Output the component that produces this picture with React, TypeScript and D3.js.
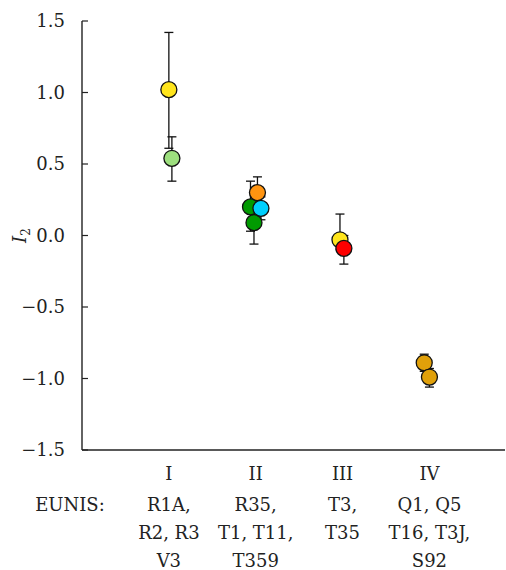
import * as d3 from "d3"

const yTicks = [1.5, 1.0, 0.5, 0.0, -0.5, -1.0, -1.5]
const groups = ["I", "II", "III", "IV"]
const groupPos = [1, 2, 3, 4]
const habitatLines = [
  ["R1A,", "R2, R3", "V3"],
  ["R35,", "T1, T11,", "T359"],
  ["T3,", "T35"],
  ["Q1, Q5", "T16, T3J,", "S92"],
]

// one entry per plotted mean, in drawing order
const pointPos = [1.0, 1.035, 1.98, 1.94, 2.06, 2.02, 2.97, 3.015, 3.94, 4.0]
const means = [1.02, 0.54, 0.09, 0.2, 0.19, 0.3, -0.03, -0.09, -0.89, -0.99]
const errHigh = [1.42, 0.69, 0.2, 0.38, 0.27, 0.41, 0.15, 0.0, -0.83, -0.93]
const errLow = [0.61, 0.38, -0.06, 0.03, 0.11, 0.19, -0.1, -0.2, -0.95, -1.06]
const fills = ["#ffe51c", "#9ddf7e", "#019a01", "#019a01", "#00d0ff", "#ff9410", "#ffe51c", "#ff0000", "#e0a00a", "#e0a00a"]

const width = 506
const height = 570
const left = 82
const font = "DejaVu Serif, Liberation Serif, serif"

export default function App() {
  const y = d3.scaleLinear().domain([-1.5, 1.5]).range([450, 21])
  const x = d3.scaleLinear().domain([0, 4.87]).range([left, 505])
  const cap = 4.5
  const fs = 18

  return (
    <svg
      width={width}
      height={height}
      style={{ position: "absolute", left: 0, top: 0, background: "#fff", fontFamily: font }}
    >
      {/* axes */}
      <line x1={left} x2={left} y1={y(1.5)} y2={y(-1.5)} stroke="#222" strokeWidth={1.4} />
      <line x1={left} x2={505} y1={y(-1.5)} y2={y(-1.5)} stroke="#222" strokeWidth={1.4} />
      {yTicks.map((t) => (
        <g key={t}>
          <line x1={left} x2={left + 6} y1={y(t)} y2={y(t)} stroke="#222" strokeWidth={1.2} />
          <text x={65} y={y(t) + 6} textAnchor="end" fontSize={fs} fill="#222">
            {d3.format(".1f")(t).replace("-", "\u2013")}
          </text>
        </g>
      ))}
      <text
        transform={`translate(26, ${y(0)}) rotate(-90)`}
        textAnchor="middle"
        fontSize={fs}
        fill="#222"
      >
        <tspan fontStyle="italic">I</tspan>
        <tspan fontSize={12} dy={4}>2</tspan>
      </text>

      {/* error bars */}
      {means.map((_, i) => {
        const cx = x(pointPos[i])
        return (
          <g key={`e${i}`} stroke="#111" strokeWidth={1.3}>
            <line x1={cx} x2={cx} y1={y(errHigh[i])} y2={y(errLow[i])} />
            <line x1={cx - cap} x2={cx + cap} y1={y(errHigh[i])} y2={y(errHigh[i])} />
            <line x1={cx - cap} x2={cx + cap} y1={y(errLow[i])} y2={y(errLow[i])} />
          </g>
        )
      })}

      {/* means */}
      {means.map((m, i) => (
        <circle
          key={`p${i}`}
          cx={x(pointPos[i])}
          cy={y(m)}
          r={8}
          fill={fills[i]}
          stroke="#111"
          strokeWidth={1.3}
        />
      ))}

      {/* category labels */}
      {groups.map((g, i) => (
        <text key={g} x={x(groupPos[i])} y={480} textAnchor="middle" fontSize={fs} fill="#222">
          {g}
        </text>
      ))}
      <text x={70} y={511} textAnchor="middle" fontSize={fs} fill="#222">
        EUNIS:
      </text>
      {habitatLines.map((lines, i) =>
        lines.map((l, j) => (
          <text
            key={`${i}-${j}`}
            x={x(groupPos[i])}
            y={511 + j * 28}
            textAnchor="middle"
            fontSize={fs}
            fill="#222"
          >
            {l}
          </text>
        ))
      )}
    </svg>
  )
}
